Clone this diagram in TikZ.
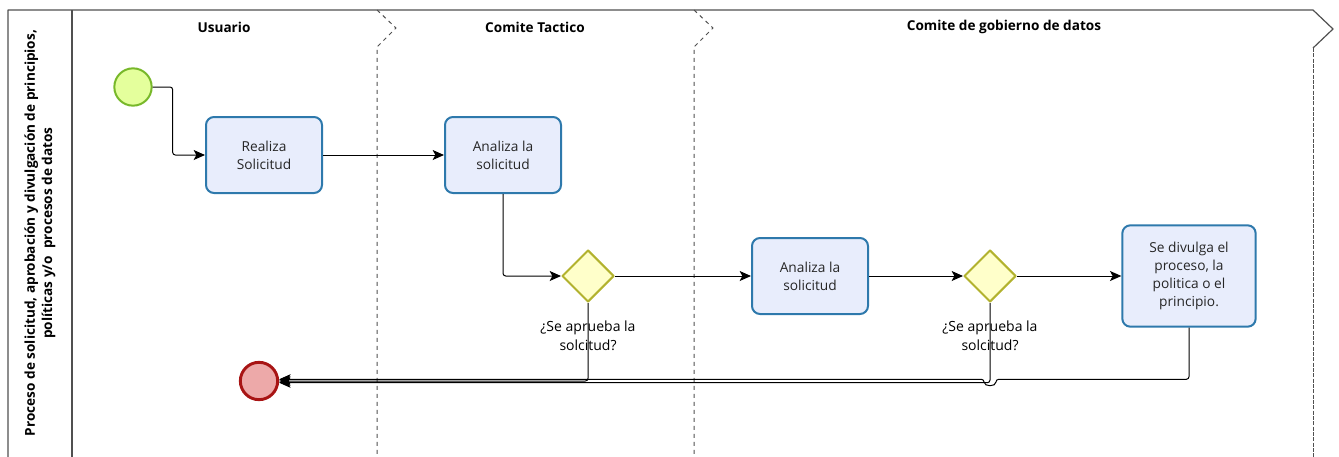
\documentclass[tikz,border=0pt]{standalone}
\usepackage{fontspec}
\setmainfont{Open Sans}
\usetikzlibrary{arrows.meta,shapes.geometric}
\definecolor{taskfill}{HTML}{E8EDFC}
\definecolor{taskline}{HTML}{2E79AC}
\definecolor{startfill}{HTML}{E4FF9C}
\definecolor{startline}{HTML}{78B82A}
\definecolor{endfill}{HTML}{EDA9A9}
\definecolor{endline}{HTML}{A81414}
\definecolor{gatefill}{HTML}{FFFFCA}
\definecolor{gateline}{HTML}{B2B22E}
\definecolor{lanegray}{HTML}{505050}
\begin{document}
\begin{tikzpicture}[x=0.75pt,y=-0.75pt, line join=round,
  font=\fontsize{10.3}{13.6}\selectfont,
  task/.style={draw=taskline, fill=taskfill, line width=1.5pt, rounded corners=6pt, align=center, minimum width=87pt, minimum height=57pt, inner sep=2pt, text=black!85},
  startev/.style={circle, draw=startline, fill=startfill, line width=1.5pt, minimum size=28pt, inner sep=0pt},
  endev/.style={circle, draw=endline, fill=endfill, line width=2.2pt, minimum size=28pt, inner sep=0pt},
  gate/.style={diamond, draw=gateline, fill=gatefill, line width=1.5pt, minimum width=39pt, minimum height=39pt, inner sep=0pt},
  flow/.style={draw, line width=0.75pt, rounded corners=2pt, -{Stealth[length=8.5pt,width=7.5pt,inset=2pt]}},
  lane/.style={draw=lanegray, dashed, line width=0.75pt},
  lanetitle/.style={font=\fontsize{10.2}{12}\selectfont\bfseries},
  gatetext/.style={align=center, font=\fontsize{10.5}{14.3}\selectfont}]
\useasboundingbox (0,0) rectangle (1339,457);
% pool and lanes
\draw[lanegray, line width=0.9pt] (8,457) -- (8,10) -- (1313,10) -- (1333,29) -- (1313,48);
\draw[lane, dash pattern=on 3pt off 1pt] (1313,48) -- (1313,457);
\draw[lanegray, line width=0.9pt] (72,10) -- (72,457);
\draw[lane] (377,10) -- (396,28) -- (377,47) -- (377,457);
\draw[lane] (694,10) -- (713,28) -- (694,47) -- (694,457);
\node[rotate=90, align=center, font=\fontsize{10.2}{13}\selectfont\bfseries] (pooltitle) at (40,233) {Proceso de solicitud, aprobación y divulgación de principios,\\políticas y/o\ \ procesos de datos};
\node[lanetitle] (usuario) at (224,27) {Usuario};
\node[lanetitle] (tactico) at (535,27) {Comite Tactico};
\node[lanetitle] (gobierno) at (1004,27) {Comite de gobierno de datos};
% events, tasks, gateways
\node[startev] (start) at (133,87) {};
\node[task] (realiza) at (264,155) {Realiza\\Solicitud};
\node[task] (analiza1) at (503,155) {Analiza la\\solicitud};
\node[gate] (aprueba1) at (588,276) {};
\node[gatetext] (aprueba1txt) at (588,336) {¿Se aprueba la\\solcitud?};
\node[task] (analiza2) at (810,276) {Analiza la\\solicitud};
\node[gate] (aprueba2) at (990,276) {};
\node[gatetext] (aprueba2txt) at (990,336) {¿Se aprueba la\\solcitud?};
\node[task, minimum width=100pt, minimum height=76pt] (divulga) at (1189,276) {Se divulga el\\proceso, la\\politica o el\\principio.};
\node[endev] (fin) at (259,381) {};
% flows
\draw[flow] (start.east) -- ++(20,0) |- (realiza.west);
\draw[flow] (realiza.east) -- (analiza1.west);
\draw[flow] (analiza1.south) |- (aprueba1.west);
\draw[flow] (aprueba1.east) -- (analiza2.west);
\draw[flow] (analiza2.east) -- (aprueba2.west);
\draw[flow] (aprueba2.east) -- (divulga.west);
\draw[flow] (aprueba1.south) |- (fin.east);
\draw[flow] (aprueba2.south) |- ([yshift=-1.3pt]fin.east);
\draw[flow] (divulga.south) |- (996,379.3) .. controls (996,387) and (984,387) .. (984,379.3) -- ([yshift=1.3pt]fin.east);
\end{tikzpicture}
\end{document}
